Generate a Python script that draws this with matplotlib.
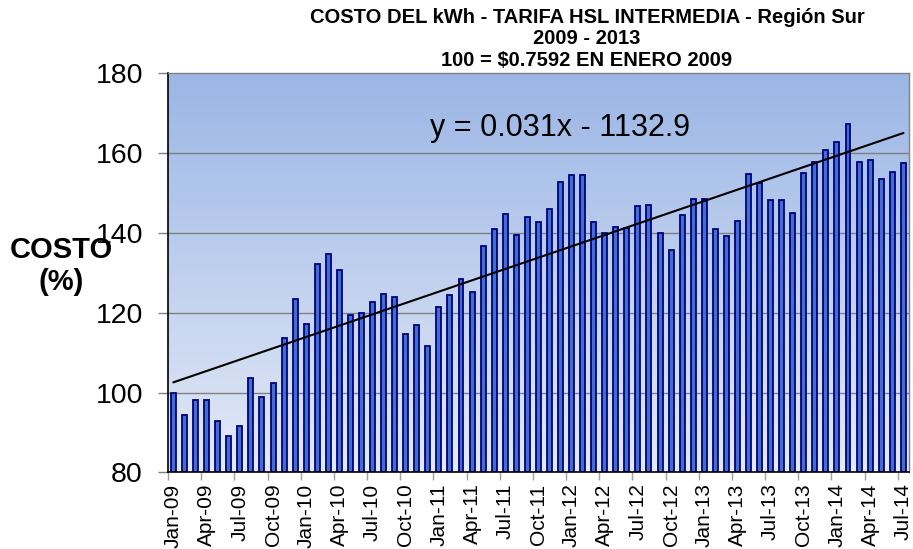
import numpy as np
import matplotlib
matplotlib.use("Agg")
import matplotlib.pyplot as plt
from matplotlib.colors import LinearSegmentedColormap

plt.rcParams['font.family'] = ['Liberation Sans', 'DejaVu Sans']

months = ['Jan', 'Feb', 'Mar', 'Apr', 'May', 'Jun', 'Jul', 'Aug', 'Sep', 'Oct', 'Nov', 'Dec']
years = ['09', '10', '11', '12', '13', '14']
categories = [f"{m}-{y}" for y in years for m in months][:67]

values = [
    100.0, 94.3, 98.0, 98.0, 92.8, 89.2, 91.6, 103.7, 98.9, 102.4, 113.7, 123.5,
    117.1, 132.3, 134.7, 130.8, 119.3, 119.8, 122.6, 124.8, 124.0, 114.7, 116.9, 111.6,
    121.4, 124.5, 128.4, 125.1, 136.6, 140.9, 144.7, 139.5, 144.0, 142.7, 146.0, 152.8,
    154.4, 154.6, 142.8, 139.9, 141.4, 141.2, 146.8, 147.0, 139.9, 135.6, 144.4, 148.5,
    148.6, 141.1, 139.3, 142.9, 154.8, 152.6, 148.2, 148.2, 145.0, 154.9, 157.7, 160.8,
    162.8, 167.3, 157.8, 158.2, 153.5, 155.2, 157.6,
]

yticks = [80, 100, 120, 140, 160, 180]
title_text = "COSTO DEL kWh - TARIFA HSL INTERMEDIA - Región Sur\n2009 - 2013\n100 = $0.7592 EN ENERO 2009"
equation_text = "y = 0.031x - 1132.9"
ylabel_text = "COSTO\n(%)"

W, H = 913, 549
fig = plt.figure(figsize=(W / 100, H / 100), dpi=100)
fig.patch.set_facecolor('white')
ax = fig.add_axes([168 / W, 1 - 472.3 / H, (908.8 - 168) / W, (472.3 - 73.3) / H])

x = np.arange(len(values))

# gradient background
cmap = LinearSegmentedColormap.from_list('bg', ['#E4EAF7', '#9BB6E5'])
grad = np.linspace(0, 1, 256).reshape(-1, 1)
ax.imshow(grad, extent=(-0.5, len(values) - 0.5, 80, 180), origin='lower',
          aspect='auto', cmap=cmap, zorder=0)

for v in yticks[1:-1]:
    ax.axhline(v, color='#808080', lw=1.0, zorder=1)

ax.bar(x, np.array(values) - 80, bottom=80, width=0.45, color='#4170CC',
       edgecolor='#000080', linewidth=1.3, zorder=2)

# linear trendline (least-squares fit of the data)
coef = np.polyfit(x, values, 1)
ax.plot([x[0], x[-1]], np.polyval(coef, [x[0], x[-1]]), color='black', lw=1.5, zorder=3)

ax.text(35, 166.3, equation_text, ha='center', va='center', fontsize=22, zorder=4)

ax.set_xlim(-0.5, len(values) - 0.5)
ax.set_ylim(80, 180)
ax.set_yticks(yticks)
ax.set_yticklabels([str(t) for t in yticks], fontsize=20.5)
ax.tick_params(axis='y', length=7, color='#808080', pad=11, width=1)

label_pos = x[::3]
ax.set_xticks(label_pos)
ax.set_xticklabels([categories[i] for i in label_pos], rotation=90, fontsize=15)
ax.tick_params(axis='x', length=0, pad=8)
ax.set_xticks(np.arange(-0.5, len(values) - 0.5, 3), minor=True)
ax.tick_params(axis='x', which='minor', length=6, color='#A0A0A0', width=1)

for s in ['left', 'bottom']:
    ax.spines[s].set_color('black')
    ax.spines[s].set_linewidth(1.2)
for s in ['top', 'right']:
    ax.spines[s].set_color('#808080')
    ax.spines[s].set_linewidth(1.0)

fig.text(587 / W, 1 - 39 / H, title_text, ha='center', va='center', fontsize=14.5,
         fontweight='bold', linespacing=1.15)
fig.text(61 / W, 1 - 266 / H, ylabel_text, ha='center', va='center', fontsize=21,
         fontweight='bold', linespacing=1.15)

fig.savefig('out.png', dpi=100)
